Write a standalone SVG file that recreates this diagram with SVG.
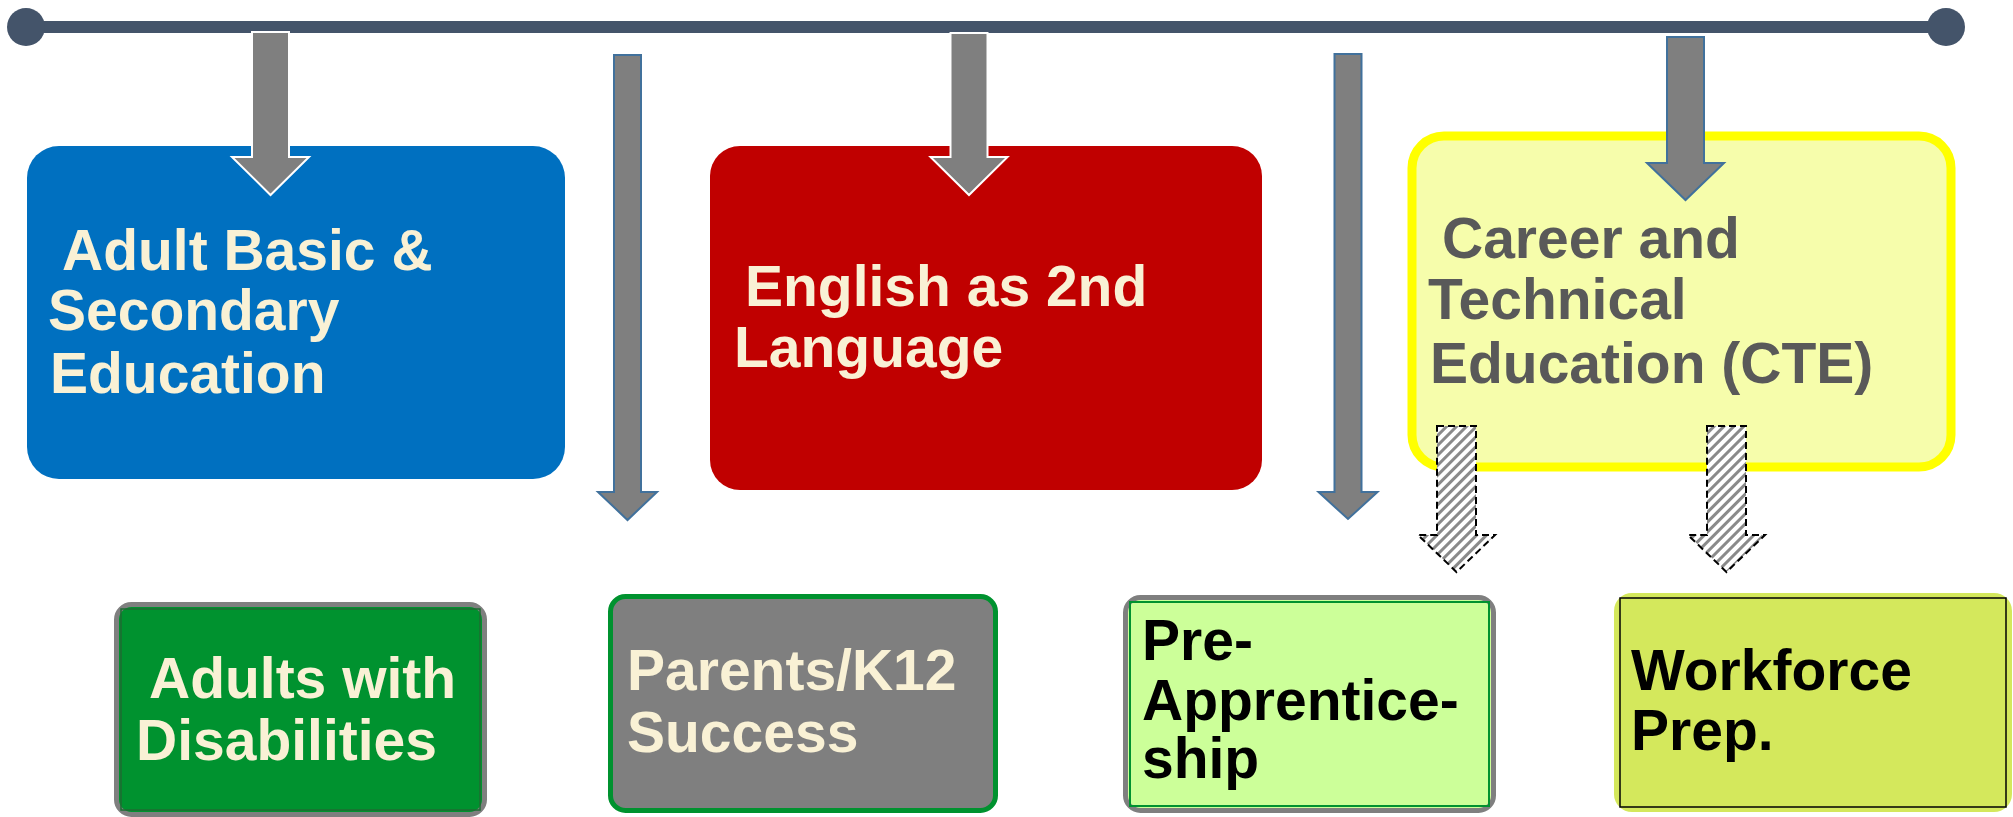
<svg xmlns="http://www.w3.org/2000/svg" width="2013" height="817" viewBox="0 0 2013 817">
<defs>
<pattern id="hatch" patternUnits="userSpaceOnUse" width="7" height="7" patternTransform="rotate(45)">
<rect x="0" y="0" width="7" height="7" fill="#ffffff"/>
<rect x="0" y="0" width="3" height="7" fill="#8a8a8a"/>
</pattern>
</defs>
<style>
.t{font-family:"Liberation Sans",Arial,sans-serif;font-weight:bold;font-size:57px}
.cream{fill:#F9F1D5}
.gray{fill:#595959}
.black{fill:#000000}
.arW{fill:#7F7F7F;stroke:#ffffff;stroke-width:2}
.arB{fill:#7F7F7F;stroke:#41719C;stroke-width:2}
.arH{fill:url(#hatch);stroke:#000000;stroke-width:2;stroke-dasharray:7 4}
</style>
<g id="timeline">
<line x1="26" y1="27" x2="1946" y2="27" stroke="#44546A" stroke-width="12"/>
<circle cx="26" cy="27" r="19" fill="#44546A"/>
<circle cx="1946" cy="27" r="19" fill="#44546A"/>
</g>
<g id="node-abe">
<rect x="27" y="146" width="538" height="333" rx="32" fill="#0070C0"/>
<text class="t cream" x="62" y="270">Adult Basic &amp;</text>
<text class="t cream" x="48" y="330">Secondary</text>
<text class="t cream" x="50" y="393">Education</text>
</g>
<g id="node-esl">
<rect x="710" y="146" width="552" height="344" rx="30" fill="#C00000"/>
<text class="t cream" x="745" y="306">English as 2nd</text>
<text class="t cream" x="734" y="367">Language</text>
</g>
<g id="node-cte">
<rect x="1412" y="136" width="539" height="331" rx="32" fill="#F6FDAB" stroke="#FFFF00" stroke-width="9"/>
<text class="t gray" x="1442" y="258">Career and</text>
<text class="t gray" x="1428" y="319">Technical</text>
<text class="t gray" x="1430" y="383">Education (CTE)</text>
</g>
<g id="node-awd">
<rect x="116.5" y="604.5" width="368" height="210" rx="15" fill="#00922F" stroke="#7F7F7F" stroke-width="5"/>
<rect x="121" y="609" width="359" height="201" fill="none" stroke="#1F6B33" stroke-width="1.5"/>
<text class="t cream" x="149" y="698">Adults with</text>
<text class="t cream" x="136" y="760">Disabilities</text>
</g>
<g id="node-parents">
<rect x="610.5" y="596.5" width="385" height="214" rx="15" fill="#7F7F7F" stroke="#00922F" stroke-width="5"/>
<text class="t cream" x="627" y="690">Parents/K12</text>
<text class="t cream" x="627" y="752">Success</text>
</g>
<g id="node-preapp">
<rect x="1125.5" y="597.5" width="368" height="213" rx="15" fill="#CCFF99" stroke="#7F7F7F" stroke-width="5"/>
<rect x="1130" y="602" width="359" height="204" fill="none" stroke="#00922F" stroke-width="2"/>
<text class="t black" x="1142" y="660">Pre-</text>
<text class="t black" x="1142" y="720">Apprentice-</text>
<text class="t black" x="1142" y="778">ship</text>
</g>
<g id="node-workforce">
<rect x="1614" y="593" width="398" height="219" rx="18" fill="#D4E85C"/>
<rect x="1620" y="598" width="386" height="209" fill="none" stroke="#000000" stroke-width="1.5"/>
<text class="t black" x="1631" y="690">Workforce</text>
<text class="t black" x="1631" y="750">Prep.</text>
</g>
<g id="connectors">
<polygon class="arW" points="252,32 289,32 289,157 309,157 270.5,195 232,157 252,157"/>
<polygon class="arB" points="614,55 641,55 641,492 657,492 627.5,520 598,492 614,492"/>
<polygon class="arW" points="950.5,33 987.5,33 987.5,157 1007.5,157 969,195 930.5,157 950.5,157"/>
<polygon class="arB" points="1334.5,54 1361.5,54 1361.5,492 1377.5,492 1348,519 1318.5,492 1334.5,492"/>
<polygon class="arB" points="1667,37 1704,37 1704,163 1724,163 1685.5,200 1647,163 1667,163"/>
<polygon class="arH" points="1437,426 1476,426 1476,535 1495,535 1456.5,572 1418,535 1437,535"/>
<polygon class="arH" points="1707,426 1746,426 1746,535 1765,535 1726.5,572 1688,535 1707,535"/>
</g>
</svg>
